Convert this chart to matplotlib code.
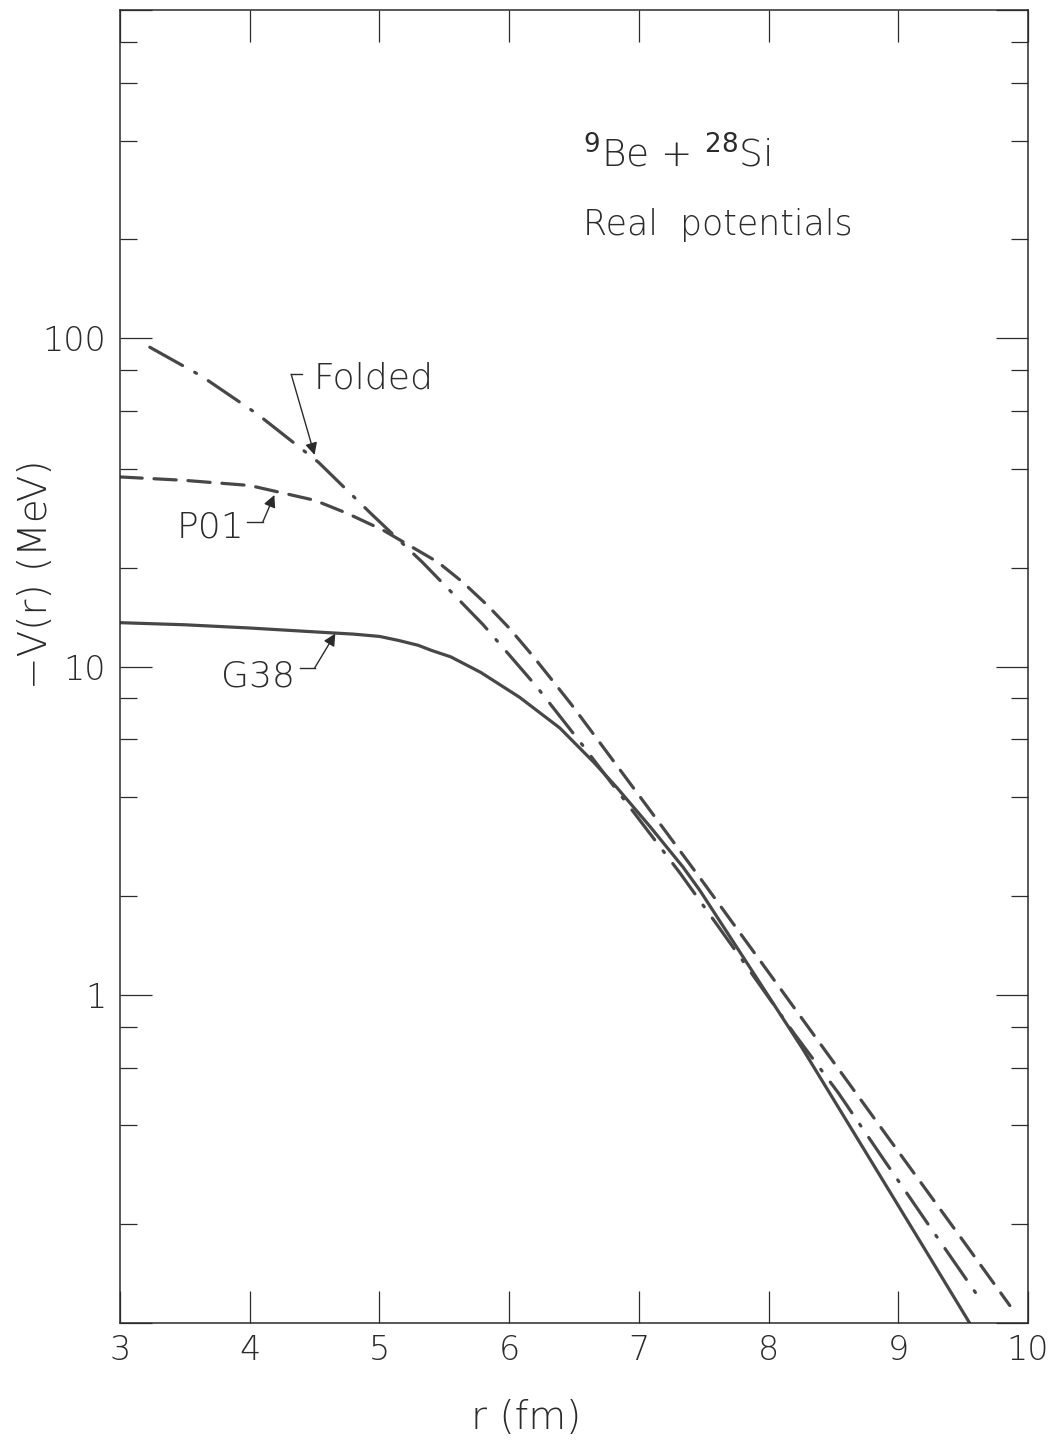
import matplotlib
matplotlib.use('Agg')
import matplotlib.pyplot as plt
from matplotlib.ticker import FixedLocator, FixedFormatter, NullFormatter

plt.rcParams['font.family'] = ['DejaVu Sans']
plt.rcParams['lines.scale_dashes'] = False

# -V(r) in MeV against r in fm for 9Be + 28Si
r_g38 = [3.0, 3.5, 4.0, 4.5, 4.8, 5.0, 5.15, 5.3, 5.4, 5.55, 5.78, 6.08, 6.39, 6.65,
         6.83, 7.09, 7.34, 7.47, 7.8, 8.26, 8.76, 9.2, 9.55]
v_g38 = [13.6, 13.4, 13.1, 12.75, 12.55, 12.35, 12.0, 11.6, 11.2, 10.7, 9.6, 8.06, 6.5,
         5.12, 4.28, 3.24, 2.45, 2.08, 1.31, 0.687, 0.326, 0.169, 0.100]

r_p01 = [3.0, 3.5, 4.0, 4.5, 4.75, 5.03, 5.45, 5.64, 5.83, 6.0, 6.18, 6.34, 6.48,
         6.63, 7.07, 7.5, 8.0, 8.5, 9.0, 9.5, 9.86]
v_p01 = [37.8, 36.9, 35.6, 32.1, 29.3, 26.0, 20.8, 18.1, 15.4, 13.1, 10.8, 9.0, 7.66,
         6.38, 3.72, 2.19, 1.17, 0.624, 0.333, 0.178, 0.113]

r_fold = [3.23, 3.63, 4.06, 4.53, 4.94, 5.33, 5.80, 6.21, 6.56, 7.0, 7.32, 7.6, 7.8,
          8.2, 8.54, 8.88, 9.23, 9.6]
v_fold = [93.9, 76.6, 58.7, 41.9, 29.1, 20.8, 13.4, 8.7, 5.8, 3.43, 2.34, 1.64, 1.27,
          0.759, 0.501, 0.318, 0.20, 0.123]

x_ticks = [3, 4, 5, 6, 7, 8, 9, 10]
y_major = [0.1, 1, 10, 100, 1000]
y_major_labels = ['', '1', '10', '100', '']
y_minor = [m * d for d in (0.1, 1, 10, 100) for m in (2, 4, 6, 8)]

ink = '#2b2b2b'
line_col = '#474747'
font = dict(family='DejaVu Sans', weight='light', color=ink)

fig = plt.figure(figsize=(10.56, 14.44), dpi=100)
ax = fig.add_axes([120 / 1056, 1 - 1323 / 1444, 908 / 1056, 1313 / 1444])

ax.plot(r_g38, v_g38, color=line_col, lw=2.3, solid_capstyle='round',
        solid_joinstyle='round')
ax.plot(r_p01, v_p01, color=line_col, lw=2.3, dashes=(16, 8.5), dash_capstyle='round')
ax.plot(r_fold, v_fold, color=line_col, lw=2.3, dashes=(27, 10, 1.5, 10),
        dash_capstyle='round')

ax.set_yscale('log')
ax.set_xlim(3, 10)
ax.set_ylim(0.1, 1000)

ax.xaxis.set_major_locator(FixedLocator(x_ticks))
ax.xaxis.set_major_formatter(FixedFormatter([str(t) for t in x_ticks]))
ax.yaxis.set_major_locator(FixedLocator(y_major))
ax.yaxis.set_major_formatter(FixedFormatter(y_major_labels))
ax.yaxis.set_minor_locator(FixedLocator(y_minor))
ax.yaxis.set_minor_formatter(NullFormatter())

ax.tick_params(which='both', direction='in', top=True, right=True,
               color=ink, width=0.9, labelcolor=ink, labelsize=24)
ax.tick_params(which='major', length=23)
ax.tick_params(which='minor', length=12)
ax.tick_params(axis='x', pad=8)
ax.tick_params(axis='y', pad=10)
for lab in ax.get_xticklabels() + ax.get_yticklabels():
    lab.set_fontweight('light')
for sp in ax.spines.values():
    sp.set_linewidth(1.1)
    sp.set_color(ink)

ax.set_xlabel('r (fm)', fontsize=28, **font)
ax.set_ylabel('\u2212V(r) (MeV)', fontsize=28, **font)
ax.xaxis.set_label_coords(0.447, -0.058)
ax.yaxis.set_label_coords(-0.072, 0.57)

# curve labels with leader arrows
arrow = dict(arrowstyle='-|>', color=ink, lw=1.0, shrinkA=0, shrinkB=0,
             mutation_scale=18)
ax.text(4.49, 75.5, 'Folded', fontsize=26, ha='left', va='center', **font)
ax.plot([4.40, 4.32], [77.6, 77.6], color=ink, lw=1.0)
ax.annotate('', xy=(4.50, 44.1), xytext=(4.32, 77.6), arrowprops=arrow)

ax.text(3.70, 26.5, 'P01', fontsize=26, ha='center', va='center', **font)
ax.plot([3.98, 4.10], [27.5, 27.5], color=ink, lw=1.0)
ax.annotate('', xy=(4.19, 33.3), xytext=(4.10, 27.5), arrowprops=arrow)

ax.text(4.06, 9.33, 'G38', fontsize=26, ha='center', va='center', **font)
ax.plot([4.39, 4.50], [9.89, 9.89], color=ink, lw=1.0)
ax.annotate('', xy=(4.66, 12.6), xytext=(4.50, 9.89), arrowprops=arrow)

ax.text(6.57, 332, r'$^{9}$Be + $^{28}$Si', fontsize=27, ha='left',
        va='baseline', **font)
ax.text(6.57, 206, 'Real  potentials', fontsize=25, ha='left', va='baseline', **font)

fig.savefig('out.png', dpi=100)
